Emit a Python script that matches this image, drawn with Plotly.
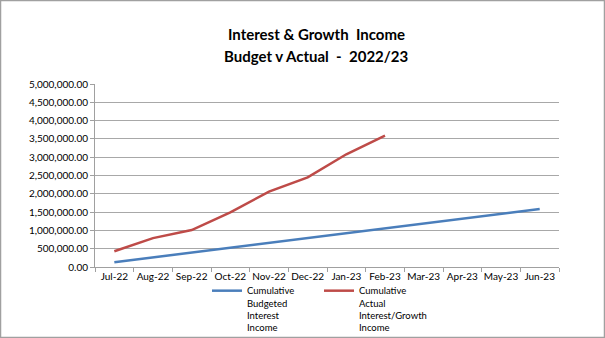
import plotly.graph_objects as go

months = ["Jul-22", "Aug-22", "Sep-22", "Oct-22", "Nov-22", "Dec-22",
          "Jan-23", "Feb-23", "Mar-23", "Apr-23", "May-23", "Jun-23"]
budget = [130000, 262000, 393000, 525000, 656000, 788000,
          919000, 1050000, 1181000, 1313000, 1444000, 1585000]
actual_months = months[:8]
actual = [430000, 790000, 1010000, 1490000, 2060000, 2450000, 3080000, 3590000]

budget_name = "Cumulative<br>Budgeted<br>Interest<br>Income"
actual_name = "Cumulative<br>Actual<br>Interest/Growth<br>Income"
title_lines = ["Interest & Growth  Income", "Budget v Actual  -  2022/23"]

W, H = 605, 338
L, R, T, B = 95, 46, 84, 71

fig = go.Figure()
fig.add_trace(go.Scatter(x=months, y=budget, mode="lines", name=budget_name,
                         line=dict(color="#4a7ebb", width=2.5)))
fig.add_trace(go.Scatter(x=actual_months, y=actual, mode="lines", name=actual_name,
                         line=dict(color="#be4b48", width=2.5)))

pw = W - L - R
ph = H - T - B


def py(pix):
    return (H - B - pix) / ph


def px(pix):
    return (pix - L) / pw


annotations = [
    dict(text="<b>%s</b>" % t, xref="paper", yref="paper", x=px(316), y=py(yc),
         xanchor="center", yanchor="middle", showarrow=False,
         font=dict(family="Lato", size=15, color="#000000"))
    for t, yc in zip(title_lines, [34, 56])
]

fig.update_layout(
    width=W, height=H,
    margin=dict(l=L, r=R, t=T, b=B, autoexpand=False),
    paper_bgcolor="white", plot_bgcolor="white",
    font=dict(family="Lato", size=10, color="#000000"),
    annotations=annotations,
    xaxis=dict(type="category", categoryorder="array", categoryarray=months,
               range=[-0.5, 11.5], showgrid=False, showline=True,
               linecolor="#a0a0a0", linewidth=1, ticks="outside",
               tickson="boundaries", ticklen=4, tickcolor="#a0a0a0",
               tickangle=0, tickfont=dict(size=10)),
    yaxis=dict(range=[0, 5000000], dtick=500000, tickformat=",.2f",
               showgrid=True, gridcolor="#a8a8a8", gridwidth=1,
               showline=True, linecolor="#a0a0a0", linewidth=1,
               ticks="outside", ticklen=4, tickcolor="#a0a0a0",
               zeroline=False, tickfont=dict(size=10)),
    showlegend=True,
    legend=dict(orientation="h", x=px(207), xanchor="left",
                y=py(278), yanchor="top", valign="top",
                entrywidth=67, entrywidthmode="pixels", itemwidth=30,
                font=dict(family="Lato", size=9.5), tracegroupgap=0,
                bgcolor="rgba(0,0,0,0)"),
    shapes=[dict(type="rect", xref="paper", yref="paper",
                 x0=px(0.5), x1=px(W - 0.5),
                 y0=py(H - 0.5), y1=py(0.5),
                 line=dict(color="#a0a0a0", width=1.5))],
)

fig.write_html("out.html")
